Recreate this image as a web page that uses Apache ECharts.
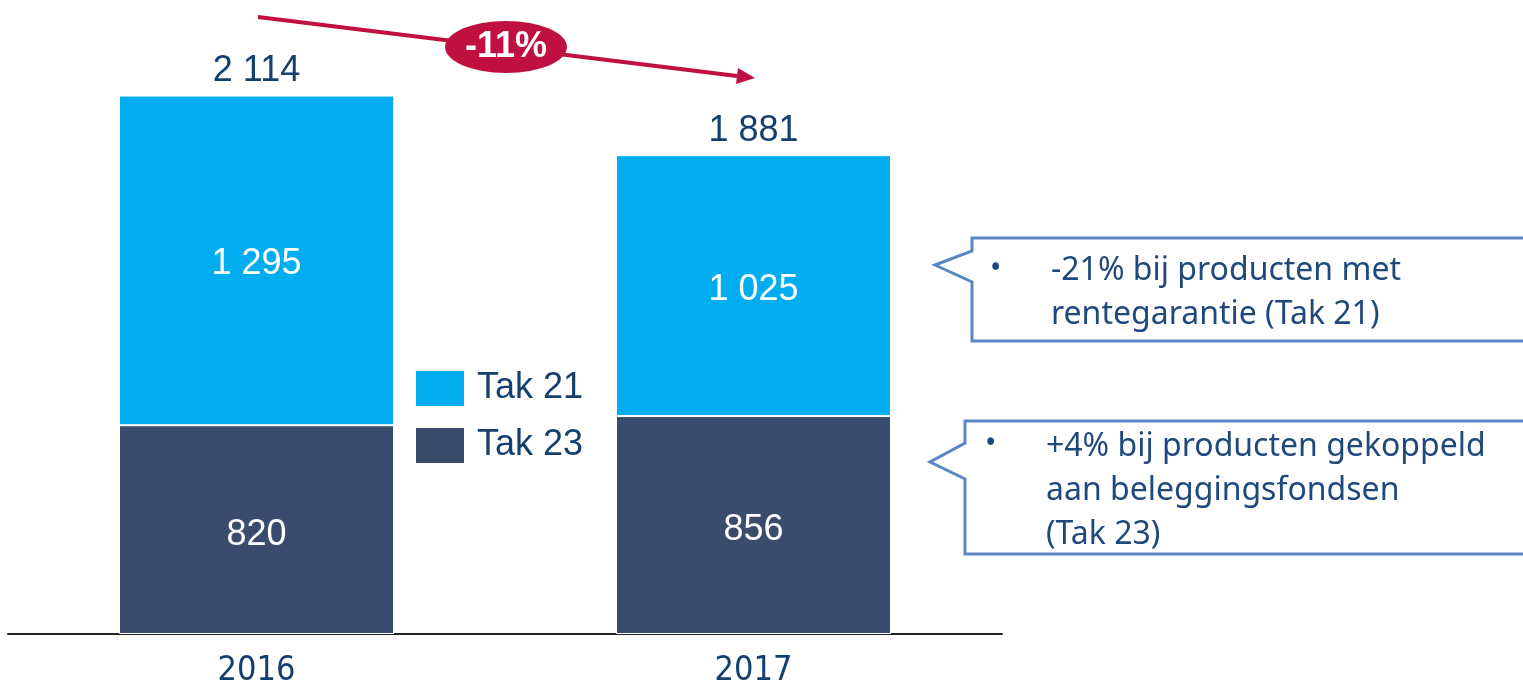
<!DOCTYPE html>
<html>
<head>
<meta charset="utf-8">
<script src="https://cdn.jsdelivr.net/npm/echarts@6/dist/echarts.min.js"></script>
<style>
  html, body { margin: 0; padding: 0; background: #fff; }
  #chart { width: 1523px; height: 685px; }
</style>
</head>
<body>
<div id="chart"></div>
<script>
/* premies leven: Tak 21 / Tak 23 */
var years = ['2016', '2017'];
var tak21 = [1295, 1025];
var tak23 = [820, 856];
var totals = [2114, 1881];
var changeLabel = '-11%';
var note21 = ['-21% bij producten met', 'rentegarantie (Tak 21)'];
var note23 = ['+4% bij producten gekoppeld', 'aan beleggingsfondsen', '(Tak 23)'];

var navy = '#14406f';
var noteColor = '#1f497d';
var red = '#c0103f';
var boxLine = '#5a86c4';

function fmt(v) {
    return String(v).replace(/\B(?=(\d{3})+(?!\d))/g, ' ');
}

function noteText(lines, x, y0, step) {
    var out = [];
    lines.forEach(function (t, i) {
        out.push({
            type: 'text', x: x, y: y0 + i * step,
            style: { text: t, fill: noteColor, font: '32px "Noto Sans"', verticalAlign: 'middle' }
        });
    });
    return out;
}

var chart = echarts.init(document.getElementById('chart'));

var graphics = [
    // trend arrow
    { type: 'polyline', shape: { points: [[258, 17], [737, 76]] },
      style: { stroke: red, lineWidth: 4 } },
    { type: 'polygon', shape: { points: [[755, 78], [736, 84], [738, 68]] },
      style: { fill: red } },
    { type: 'ellipse', shape: { cx: 506, cy: 47, rx: 61, ry: 26 },
      style: { fill: red } },
    { type: 'text', x: 506, y: 47,
      style: { text: changeLabel, fill: '#fff', font: 'bold 36px "Liberation Sans"',
               align: 'center', verticalAlign: 'middle' } },
    // callout boxes
    { type: 'polygon',
      shape: { points: [[1530, 238], [972, 238], [972, 251], [935, 265], [972, 282], [972, 341], [1530, 341]] },
      style: { fill: '#fff', stroke: boxLine, lineWidth: 3 } },
    { type: 'polygon',
      shape: { points: [[1530, 421], [965, 421], [965, 443], [930, 462], [965, 479], [965, 554], [1530, 554]] },
      style: { fill: '#fff', stroke: boxLine, lineWidth: 3 } },
    { type: 'text', x: 990, y: 269,
      style: { text: '•', fill: noteColor, font: '30px "Noto Sans"', verticalAlign: 'middle' } },
    { type: 'text', x: 985, y: 444,
      style: { text: '•', fill: noteColor, font: '30px "Noto Sans"', verticalAlign: 'middle' } }
];
graphics = graphics.concat(noteText(note21, 1051, 271, 44));
graphics = graphics.concat(noteText(note23, 1046, 447, 44));

chart.setOption({
    animation: false,
    grid: { left: 8, right: 521, top: 23, bottom: 51, outerBoundsMode: 'none', containLabel: false },
    legend: {
        data: ['Tak 21', 'Tak 23'],
        orient: 'vertical',
        left: 414, top: 369, padding: 0,
        itemWidth: 50, itemHeight: 37, itemGap: 18,
        icon: 'rect',
        textStyle: { color: navy, fontSize: 36, fontFamily: 'Liberation Sans', padding: [0, 0, 0, 7] }
    },
    xAxis: {
        type: 'category',
        data: years,
        axisLine: { lineStyle: { color: '#222', width: 2 } },
        axisTick: { show: false },
        axisLabel: { color: navy, fontSize: 34, fontFamily: '"DejaVu Sans Condensed", Roboto, sans-serif', margin: 20 }
    },
    yAxis: {
        type: 'value', min: 0, max: 2400, show: false,
        splitLine: { show: false }
    },
    series: [
        {
            name: 'Tak 23', type: 'bar', stack: 'tot', barWidth: 275,
            data: tak23,
            itemStyle: { color: '#394c6c', borderColor: '#fff', borderWidth: 1 },
            label: { show: true, position: 'inside', offset: [0, 5], color: '#fff', fontSize: 36,
                     fontFamily: 'Liberation Sans', formatter: function (p) { return fmt(p.value); } }
        },
        {
            name: 'Tak 21', type: 'bar', stack: 'tot', barWidth: 275,
            data: tak21,
            itemStyle: { color: '#00aeef', borderColor: '#fff', borderWidth: 1 },
            label: { show: true, position: 'inside', offset: [0, 4], color: '#fff', fontSize: 36,
                     fontFamily: 'Liberation Sans', formatter: function (p) { return fmt(p.value); } }
        },
        {
            name: 'Totaal', type: 'bar', stack: 'tot', barWidth: 275,
            data: years.map(function () { return 0; }),
            itemStyle: { color: 'transparent' },
            label: { show: true, position: 'top', distance: 6, color: navy, fontSize: 36,
                     fontFamily: 'Liberation Sans',
                     formatter: function (p) { return fmt(totals[p.dataIndex]); } }
        }
    ],
    graphic: graphics
});
</script>
</body>
</html>
